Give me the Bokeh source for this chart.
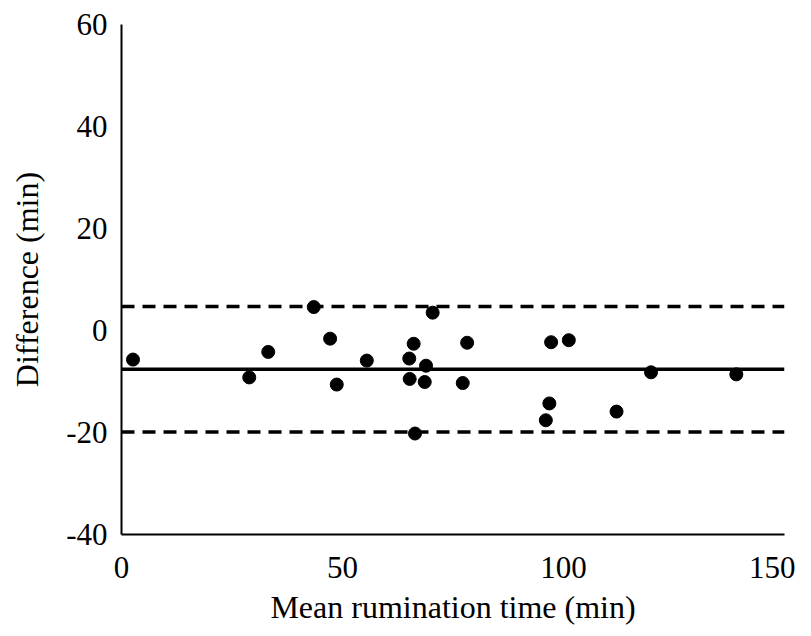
from bokeh.plotting import figure
from bokeh.models import Range1d, FixedTicker, Span
from bokeh.embed import file_html
from bokeh.resources import INLINE

# Data
mean_time = [2.6, 28.9, 33.2, 43.5, 47.2, 48.7, 55.5, 65.1, 65.2, 66.1, 66.4, 68.9,
             68.6, 70.4, 77.2, 78.2, 96.0, 96.8, 97.2, 101.2, 112.0, 119.8, 139.1]
difference = [-5.7, -9.2, -4.2, 4.6, -1.6, -10.6, -5.9, -5.5, -9.5, -2.6, -20.2, -6.9,
              -10.1, 3.5, -10.3, -2.4, -17.6, -14.3, -2.3, -1.9, -15.9, -8.2, -8.6]
mean_bias = -7.6
upper_loa = 4.7
lower_loa = -19.9
x_ticks = [0, 50, 100, 150]
y_ticks = [-40, -20, 0, 20, 40, 60]

FONT = "Liberation Serif"

p = figure(width=795, height=628, output_backend="svg", toolbar_location=None,
           x_range=Range1d(0, 150), y_range=Range1d(-40, 60),
           min_border_left=121, min_border_right=11, min_border_top=24, min_border_bottom=94)

p.outline_line_color = None
p.xgrid.grid_line_color = None
p.ygrid.grid_line_color = None
p.background_fill_color = "white"

for ax in (p.xaxis[0], p.yaxis[0]):
    ax.axis_line_width = 2
    ax.axis_line_color = "black"
    ax.major_tick_line_color = None
    ax.minor_tick_line_color = None
    ax.major_label_text_font = FONT
    ax.major_label_text_font_size = "31px"
    ax.major_label_text_color = "black"
    ax.axis_label_text_font = FONT
    ax.axis_label_text_font_size = "32px"
    ax.axis_label_text_font_style = "normal"
    ax.axis_label_text_color = "black"

p.xaxis.ticker = FixedTicker(ticks=x_ticks)
p.yaxis.ticker = FixedTicker(ticks=y_ticks)
p.yaxis.major_label_overrides = {t: str(t) for t in y_ticks}
p.xaxis.major_label_overrides = {t: str(t) for t in x_ticks}
p.xaxis.axis_label = "Mean rumination time (min)"
p.yaxis.axis_label = "Difference (min)"
p.xaxis.major_label_standoff = 16
p.xaxis.axis_label_standoff = 8
p.yaxis.major_label_standoff = 8
p.yaxis.axis_label_standoff = 18

p.add_layout(Span(location=mean_bias, dimension="width", line_color="black", line_width=3.5))
p.add_layout(Span(location=upper_loa, dimension="width", line_color="black", line_width=3.5,
                  line_dash="13 8"))
p.add_layout(Span(location=lower_loa, dimension="width", line_color="black", line_width=3.5,
                  line_dash="13 8"))

p.scatter(mean_time, difference, size=13, color="black", marker="circle")

open("out.html", "w").write(file_html(p, INLINE))
